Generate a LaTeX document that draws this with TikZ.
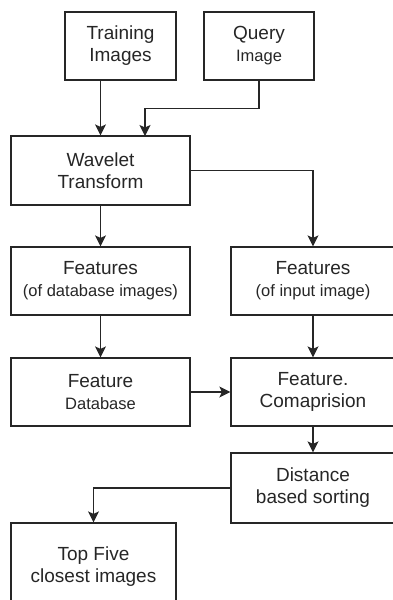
\documentclass[tikz,border=0pt]{standalone}
\usepackage{fontspec}
\setmainfont{Liberation Sans}
\usetikzlibrary{arrows.meta}
\definecolor{ink}{HTML}{262626}
\newcommand{\sublabel}[1]{{\fontsize{16.5}{20}\selectfont #1}}
\begin{document}
\begin{tikzpicture}[x=1pt,y=-1pt,
  box/.style={draw=ink, line width=1.2pt, align=center, inner sep=0pt,
              font=\fontsize{19}{22}\selectfont, text=ink},
  arr/.style={draw=ink, line width=1.2pt,
              -{Stealth[length=11pt,width=11pt,inset=2.5pt]}}]
\useasboundingbox (0,0) rectangle (393,600);
\clip (0,0) rectangle (393,600);
% input boxes
\node[box, minimum width=111pt, minimum height=68pt] (train) at (120.5,46)
  {Training\\Images};
\node[box, minimum width=110pt, minimum height=68pt] (query) at (259,46)
  {Query\\\sublabel{Image}};
% processing chain
\node[box, minimum width=179pt, minimum height=69pt] (wave) at (100.5,170.5)
  {Wavelet\\Transform};
\node[box, minimum width=179pt, minimum height=68pt] (featdb) at (100.5,281)
  {Features\\\sublabel{(of database images)}};
\node[box, minimum width=164pt, minimum height=68pt] (featin) at (313,281)
  {Features\\\sublabel{(of input image)}};
\node[box, minimum width=179pt, minimum height=68pt] (fdb) at (100.5,392)
  {Feature\\\sublabel{Database}};
\node[box, minimum width=164pt, minimum height=68pt] (comp) at (313,392)
  {Feature.\\Comaprision};
\node[box, minimum width=164pt, minimum height=70pt] (dist) at (313,488)
  {Distance\\based sorting};
\node[box, minimum width=165pt, minimum height=87pt] (top) at (93.5,566.5)
  {Top Five\\closest images};
% entry point of the query branch on the transform box
\coordinate (qin) at (145,136);
% connectors
\draw[arr] (wave.north |- train.south) -- (wave.north);
\draw[arr] (query.south) -- ++(0,28) -| (qin);
\draw[arr] (wave.south) -- (featdb.north);
\draw[arr] (wave.east) -| (featin.north);
\draw[arr] (featdb.south) -- (fdb.north);
\draw[arr] (featin.south) -- (comp.north);
\draw[arr] (fdb.east) -- (comp.west);
\draw[arr] (comp.south) -- (dist.north);
\draw[arr] (dist.west) -| (top.north);
\end{tikzpicture}
\end{document}
